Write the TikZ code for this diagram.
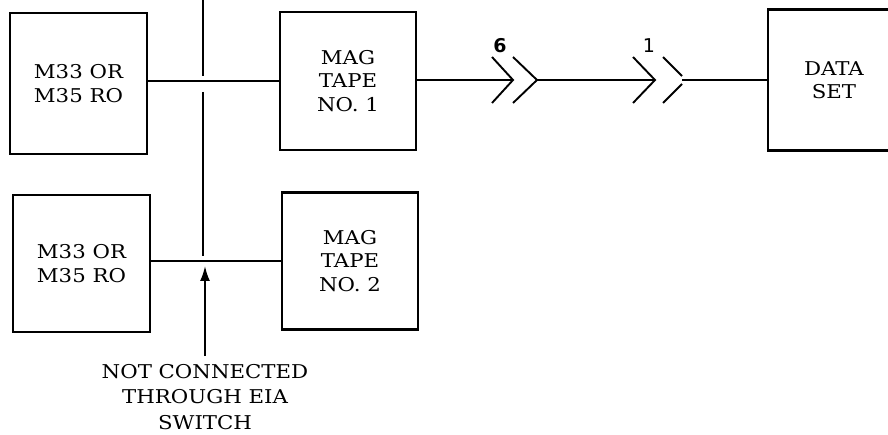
\documentclass[tikz,border=0pt]{standalone}
\usepackage{fontspec}
\setmainfont{DejaVu Serif}[FakeStretch=1.12]
\setsansfont{DejaVu Sans}
\usetikzlibrary{arrows.meta}
\tikzset{
  blk/.style={draw, line width=2.2pt, rectangle, inner sep=0pt, align=center,
    font=\fontsize{19}{23.5}\selectfont},
  wire/.style={line width=1.9pt},
  chev/.style={line width=1.9pt},
  lbl/.style={font=\sffamily\bfseries\fontsize{19}{20}\selectfont, inner sep=0pt}
}
\begin{document}
\begin{tikzpicture}[x=1pt,y=-1pt]
\useasboundingbox (0,0) rectangle (888,435);
\clip (0,0) rectangle (888,435);
% blocks
\node[blk, minimum width=137pt, minimum height=141pt] (ro1) at (78.5,83.5) {M33 OR\\M35 RO};
\node[blk, minimum width=137pt, minimum height=137pt] (ro2) at (81.5,263.5) {M33 OR\\M35 RO};
\node[blk, minimum width=136pt, minimum height=138pt] (mt1) at (348,81) {MAG\\TAPE\\NO. 1};
\node[blk, minimum width=136pt, minimum height=137pt] (mt2) at (350,261) {MAG\\TAPE\\NO. 2};
\node[blk, minimum width=132pt, minimum height=141pt] (ds) at (834,80) {DATA\\SET};
% horizontal wires
\draw[wire] (ro1.east |- mt1.west) -- (mt1.west);
\draw[wire] (ro2.east |- mt2.west) -- (mt2.west);
% vertical wire (not connected at crossings)
\coordinate (vtop) at (203,-2);
\coordinate (va) at (203,76);
\coordinate (vb) at (203,92);
\coordinate (vc) at (203,256);
\draw[wire] (vtop) -- (va);
\draw[wire] (vb) -- (vc);
% label with arrow
\node[align=center, font=\fontsize{19}{25.5}\selectfont, inner sep=0pt] (note) at (205,397) {NOT CONNECTED\\THROUGH EIA\\SWITCH};
\coordinate (atip) at (205,266);
\coordinate (abase) at (205,356);
\draw[wire, -{Latex[length=15pt,width=10pt]}] (abase) -- (atip);
% connectors to data set
\coordinate (c1tip) at (513,80);
\coordinate (c2tip) at (537,80);
\coordinate (c3tip) at (655,80);
\coordinate (c4end) at (682,80);
\draw[wire] (mt1.east |- c1tip) -- (c1tip);
\draw[chev] (492,57) -- (c1tip) -- (492,103);
\draw[chev] (513,57) -- (c2tip) -- (513,103);
\draw[wire] (c2tip) -- (c3tip);
\draw[chev] (633,57) -- (c3tip) -- (633,103);
\draw[chev] (663,57) -- (682,76);
\draw[chev] (663,103) -- (682,84);
\draw[wire] (c4end) -- (ds.west);
\node[lbl] (n6) at (500,45.5) {6};
\node[lbl, font=\sffamily\fontsize{19}{20}\selectfont] (n1) at (649,45.5) {1};
\end{tikzpicture}
\end{document}
